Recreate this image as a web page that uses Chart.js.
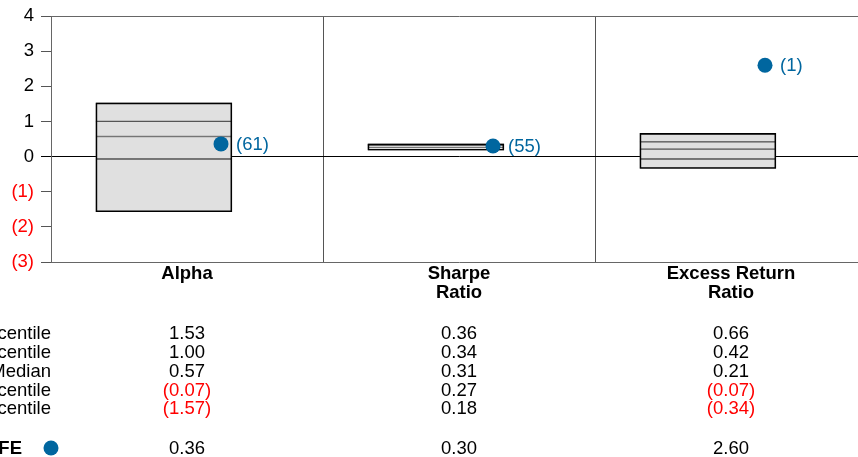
<!DOCTYPE html>
<html>
<head>
<meta charset="utf-8">
<script src="https://cdn.jsdelivr.net/npm/chart.js@4"></script>
<style>
  html, body { margin: 0; padding: 0; overflow: hidden; background: #fff; }
  #wrap { width: 868px; height: 457px; position: relative; }
</style>
</head>
<body>
<div id="wrap"><canvas id="riskChart"></canvas></div>
<script>
// data
const categories = [['Alpha'], ['Sharpe', 'Ratio'], ['Excess Return', 'Ratio']];
const p90 = [1.53, 0.36, 0.66];
const p75 = [1.00, 0.34, 0.42];
const median = [0.57, 0.31, 0.21];
const p25 = [-0.07, 0.27, -0.07];
const p10 = [-1.57, 0.18, -0.34];
const fundValues = [0.36, 0.30, 2.60];
const fundRanks = [61, 55, 1];
const rowLabels = ['90th Percentile', '75th Percentile', 'Median', '25th Percentile', '10th Percentile'];
const fundName = 'FE';
const yTickValues = [-3, -2, -1, 0, 1, 2, 3, 4];

const BLUE = '#00669f';
const RED = '#ff0000';
const FONT = '"Liberation Sans", Arial, sans-serif';
const FS = 18.5;
const BOX_POS = 0.415;   // box centre inside each category slot
const DOT_POS = 0.625;   // fund dot inside each category slot

function fmt(v) {
  return v < 0 ? '(' + Math.abs(v).toFixed(2) + ')' : v.toFixed(2);
}

function segment(lo, hi) {
  return lo.map((v, i) => ({ x: i + BOX_POS, y: [v, hi[i]] }));
}

const segStyle = {
  type: 'bar',
  grouped: false,
  barThickness: 136,
  backgroundColor: '#e0e0e0',
  borderColor: '#555555',
  borderWidth: 1,
  borderSkipped: false,
  order: 3
};

// labels next to the fund dots
const rankLabels = {
  id: 'rankLabels',
  afterDatasetsDraw(chart) {
    const meta = chart.getDatasetMeta(0);
    const ctx = chart.ctx;
    ctx.save();
    ctx.font = FS + 'px ' + FONT;
    ctx.fillStyle = BLUE;
    ctx.textAlign = 'left';
    ctx.textBaseline = 'middle';
    meta.data.forEach((pt, i) => {
      ctx.fillText('(' + fundRanks[i] + ')', pt.x + 15, pt.y + 1);
    });
    ctx.restore();
  }
};

// percentile table under the chart
const statsTable = {
  id: 'statsTable',
  afterDraw(chart) {
    const ctx = chart.ctx;
    const x = chart.scales.x;
    const rows = [p90, p75, median, p25, p10];
    const rowY = [339, 358, 377, 395.5, 414.3];
    ctx.save();
    ctx.font = FS + 'px ' + FONT;
    ctx.textBaseline = 'alphabetic';
    rows.forEach((row, r) => {
      ctx.textAlign = 'right';
      ctx.fillStyle = '#000';
      ctx.fillText(rowLabels[r], 51, rowY[r]);
      ctx.textAlign = 'center';
      row.forEach((v, i) => {
        ctx.fillStyle = v < 0 ? RED : '#000';
        ctx.fillText(fmt(v), x.getPixelForValue(i + 0.5), rowY[r]);
      });
    });
    // fund row
    const fy = 454;
    ctx.font = 'bold ' + FS + 'px ' + FONT;
    ctx.textAlign = 'right';
    ctx.fillStyle = '#000';
    ctx.fillText(fundName, 22, fy);
    ctx.beginPath();
    ctx.arc(51, fy - 6, 7.5, 0, Math.PI * 2);
    ctx.fillStyle = BLUE;
    ctx.fill();
    ctx.font = FS + 'px ' + FONT;
    ctx.textAlign = 'center';
    fundValues.forEach((v, i) => {
      ctx.fillStyle = v < 0 ? RED : '#000';
      ctx.fillText(fmt(v), x.getPixelForValue(i + 0.5), fy);
    });
    ctx.restore();
  }
};

function createRiskChart() {
  const ctx = document.getElementById('riskChart').getContext('2d');

  return new Chart(ctx, {
    type: 'bar',
    data: {
      datasets: [
        {
          type: 'scatter',
          data: fundValues.map((v, i) => ({ x: i + DOT_POS, y: v })),
          backgroundColor: BLUE,
          borderWidth: 0,
          pointRadius: 7.5,
          order: 0
        },
        {
          type: 'bar',
          grouped: false,
          barThickness: 136,
          data: segment(p10, p90),
          backgroundColor: 'rgba(0,0,0,0)',
          borderColor: '#000',
          borderWidth: 1,
          borderSkipped: false,
          order: 1
        },
        Object.assign({ data: segment(p10, p25) }, segStyle),
        Object.assign({ data: segment(p25, median) }, segStyle),
        Object.assign({ data: segment(median, p75) }, segStyle),
        Object.assign({ data: segment(p75, p90) }, segStyle)
      ]
    },
    options: {
      responsive: true,
      maintainAspectRatio: false,
      animation: false,
      layout: { autoPadding: false, padding: { top: 16, right: 1, left: 0, bottom: 0 } },
      plugins: {
        legend: { display: false },
        tooltip: { enabled: false }
      },
      scales: {
        x: {
          type: 'linear',
          min: 0,
          max: 3,
          offset: false,
          afterBuildTicks: function(scale) {
            scale.ticks = [0, 0.5, 1, 1.5, 2, 2.5, 3].map(v => ({ value: v }));
          },
          afterFit: function(scale) {
            scale.height = 195;
            scale.paddingLeft = 0;
            scale.paddingRight = 0;
          },
          border: { color: '#666', width: 1 },
          grid: {
            offset: false,
            drawTicks: false,
            color: function(c) {
              const v = c.tick ? c.tick.value : 0;
              return (v === 1 || v === 2) ? '#555' : 'rgba(0,0,0,0)';
            }
          },
          ticks: {
            autoSkip: false,
            maxRotation: 0,
            padding: 2,
            color: '#000',
            font: { family: FONT, size: FS, weight: 'bold', lineHeight: 1.05 },
            callback: function(value) {
              const i = Math.floor(value);
              return (value - i === 0.5) ? categories[i] : '';
            }
          }
        },
        y: {
          min: -3,
          max: 4,
          afterBuildTicks: function(scale) {
            scale.ticks = yTickValues.map(v => ({ value: v }));
          },
          afterFit: function(scale) {
            scale.width = 51;
            scale.paddingTop = 0;
            scale.paddingBottom = 0;
          },
          border: { color: '#666', width: 1 },
          grid: {
            tickLength: 10,
            color: function(c) {
              const v = c.tick ? c.tick.value : null;
              if (v === 0) return '#000';
              if (v === 4) return '#666';
              return 'rgba(0,0,0,0)';
            },
            tickColor: function(c) {
              return c.tick && c.tick.value === 0 ? '#000' : '#555';
            }
          },
          ticks: {
            padding: 7,
            font: { family: FONT, size: FS },
            color: function(c) {
              return c.tick.value < 0 ? RED : '#000';
            },
            callback: function(value) {
              return value < 0 ? '(' + (-value) + ')' : String(value);
            }
          }
        }
      }
    },
    plugins: [rankLabels, statsTable]
  });
}

document.addEventListener('DOMContentLoaded', function() {
  if (document.getElementById('riskChart')) {
    createRiskChart();
  }
});
</script>
</body>
</html>
